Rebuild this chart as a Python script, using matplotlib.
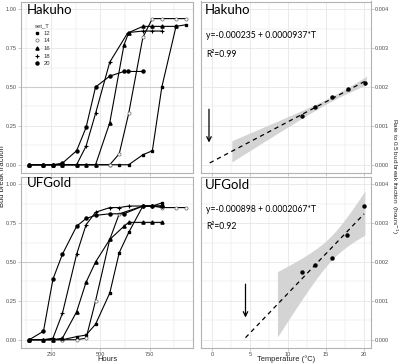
import numpy as np
import matplotlib
matplotlib.use('Agg')
import matplotlib.pyplot as plt
from matplotlib.lines import Line2D

# ---- bud break curves (hours, fraction) ----
hak_t12 = [140, 212, 260, 308, 380, 428, 476, 548, 596, 644, 716, 764, 812, 884, 932]
hak_v12 = [0, 0, 0, 0, 0, 0, 0, 0, 0, 0, 0.064, 0.09, 0.50, 0.89, 0.90]
hak_t14 = [140, 212, 260, 308, 380, 428, 476, 548, 596, 644, 716, 764, 812, 884, 932]
hak_v14 = [0, 0, 0, 0, 0, 0, 0, 0, 0.07, 0.33, 0.82, 0.94, 0.94, 0.94, 0.94]
hak_t16 = [140, 212, 260, 308, 380, 428, 476, 548, 620, 644, 716, 764, 812, 884]
hak_v16 = [0, 0, 0, 0, 0, 0, 0, 0.27, 0.77, 0.85, 0.89, 0.89, 0.89, 0.89]
hak_t18 = [140, 212, 260, 308, 380, 428, 476, 548, 640, 716, 764, 812]
hak_v18 = [0, 0, 0, 0, 0, 0.12, 0.33, 0.66, 0.85, 0.86, 0.86, 0.86]
hak_t20 = [140, 212, 260, 308, 380, 428, 476, 548, 620, 640, 716]
hak_v20 = [0, 0, 0, 0.01, 0.09, 0.24, 0.50, 0.57, 0.60, 0.60, 0.60]

ufg_t12 = [140, 212, 260, 308, 380, 428, 476, 548, 596, 644, 716, 764, 812]
ufg_v12 = [0, 0, 0, 0, 0.02, 0.03, 0.10, 0.30, 0.56, 0.69, 0.86, 0.86, 0.88]
ufg_t14 = [140, 212, 260, 308, 380, 428, 476, 548, 596, 716, 764, 812, 884, 932]
ufg_v14 = [0, 0, 0, 0, 0, 0.01, 0.25, 0.645, 0.81, 0.86, 0.86, 0.85, 0.85, 0.85]
ufg_t16 = [140, 212, 260, 308, 380, 428, 476, 548, 620, 644, 716, 764, 812]
ufg_v16 = [0, 0, 0, 0.01, 0.18, 0.37, 0.50, 0.645, 0.73, 0.755, 0.755, 0.755, 0.755]
ufg_t18 = [140, 212, 260, 308, 380, 428, 476, 548, 596, 644, 716, 764, 812]
ufg_v18 = [0, 0, 0.01, 0.17, 0.55, 0.74, 0.82, 0.85, 0.85, 0.86, 0.86, 0.86, 0.86]
ufg_t20 = [140, 212, 260, 308, 380, 428, 476, 548, 620, 716, 764, 812]
ufg_v20 = [0, 0.055, 0.39, 0.55, 0.73, 0.78, 0.80, 0.81, 0.81, 0.86, 0.86, 0.86]

set_T = ['12', '14', '16', '18', '20']

# ---- rate to 0.5 bud break vs temperature ----
hak_T = [11.8, 13.5, 15.8, 17.9, 20.1]
hak_rate = [0.00125, 0.00149, 0.00174, 0.00194, 0.00211]
ufg_T = [11.8, 13.5, 15.8, 17.8, 20.0]
ufg_rate = [0.00173, 0.00191, 0.00211, 0.0027, 0.00344]

hak_eq = 'y=-0.000235 + 0.0000937*T'
hak_r2 = 'R²=0.99'
ufg_eq = 'y=-0.000898 + 0.0002067*T'
ufg_r2 = 'R²=0.92'

styles = {
    '12': dict(marker='s', ms=2.0, mfc='black', mec='black'),
    '14': dict(marker='o', ms=2.3, mfc='white', mec='#666666', mew=0.5),
    '16': dict(marker='^', ms=2.3, mfc='black', mec='black'),
    '18': dict(marker='+', ms=2.3, mfc='black', mec='black', mew=0.8),
    '20': dict(marker='o', ms=2.2, mfc='black', mec='black'),
}

W, H = 400, 364
fig = plt.figure(figsize=(4, 3.64), dpi=100)

def px_axes(x0, y0, x1, y1):
    return fig.add_axes([x0 / W, 1 - y1 / H, (x1 - x0) / W, (y1 - y0) / H])

ax_hl = px_axes(21, 1.5, 193, 172.5)
ax_ul = px_axes(21, 176.5, 193, 347.5)
ax_hr = px_axes(201, 1.5, 371, 172.5)
ax_ur = px_axes(201, 176.5, 371, 347.5)

tick_font = dict(family='Liberation Sans', size=4.1)
grid_col = '#e6e6e6'

for ax in (ax_hl, ax_ul, ax_hr, ax_ur):
    for s in ax.spines.values():
        s.set_color('#b3b3b3')
        s.set_linewidth(0.8)
    ax.tick_params(length=2, width=0.5, color='#b3b3b3', labelcolor='#4d4d4d',
                   labelsize=4.1, pad=1.0)
    ax.set_axisbelow(True)

# left panels
for ax, curves in ((ax_hl, [(hak_t12, hak_v12), (hak_t14, hak_v14), (hak_t16, hak_v16),
                            (hak_t18, hak_v18), (hak_t20, hak_v20)]),
                   (ax_ul, [(ufg_t12, ufg_v12), (ufg_t14, ufg_v14), (ufg_t16, ufg_v16),
                            (ufg_t18, ufg_v18), (ufg_t20, ufg_v20)])):
    ax.set_xlim(98, 970)
    ax.set_ylim(-0.05, 1.05)
    ax.set_xticks([250, 500, 750])
    ax.set_xticks([125, 375, 625, 875], minor=True)
    ax.set_yticks([0, 0.25, 0.5, 0.75, 1.0])
    ax.set_yticks([0.125, 0.375, 0.625, 0.875], minor=True)
    ax.set_yticklabels(['0.00', '0.25', '0.50', '0.75', '1.00'], **tick_font)
    ax.grid(which='major', color=grid_col, lw=0.6)
    ax.grid(which='minor', color=grid_col, lw=0.35)
    ax.tick_params(which='minor', length=0)
    ax.axhline(0.5, color='#cccccc', lw=0.8, zorder=1)
    for key, (t, v) in zip(set_T, curves):
        ax.plot(t, v, color='black', lw=0.8, zorder=3, **styles[key])

ax_hl.set_xticklabels([])
ax_ul.set_xticklabels(['250', '500', '750'], **tick_font)

handles = [Line2D([], [], ls='none', **styles[k]) for k in set_T]
leg = ax_hl.legend(handles, set_T, title='set_T', loc='upper left',
                   bbox_to_anchor=(0.06, 0.895), frameon=False,
                   prop=dict(family='Liberation Sans', size=4.2),
                   handlelength=0.8, handletextpad=0.7, labelspacing=0.45,
                   borderpad=0.1)
leg.get_title().set_fontsize(4.2)
leg.get_title().set_family('Liberation Sans')
leg.get_title().set_color('#333333')
for txt in leg.get_texts():
    txt.set_color('#333333')

ax_hl.text(0.035, 0.985, 'Hakuho', transform=ax_hl.transAxes, ha='left', va='top',
           family='Lato', fontsize=9.5)
ax_ul.text(0.035, 1.0, 'UFGold', transform=ax_ul.transAxes, ha='left', va='top',
           family='Lato', fontsize=9.5)

# right panels
tcrit = 3.182  # t(0.975, df=3)

def rate_panel(ax, T, rate, line_rng, band_rng, arrow_x, name):
    T = np.array(T)
    rate = np.array(rate)
    ax.set_xlim(-1.45, 20.9)
    ax.set_ylim(-0.0002, 0.0042)
    ax.set_xticks([0, 5, 10, 15, 20])
    ax.set_xticks([2.5, 7.5, 12.5, 17.5], minor=True)
    ax.set_yticks([0, 0.001, 0.002, 0.003, 0.004])
    ax.set_yticks([0.0005, 0.0015, 0.0025, 0.0035], minor=True)
    ax.yaxis.tick_right()
    ax.set_yticklabels(['0.000', '0.001', '0.002', '0.003', '0.004'], **tick_font)
    ax.grid(which='major', color=grid_col, lw=0.6)
    ax.grid(which='minor', color=grid_col, lw=0.35)
    ax.tick_params(which='minor', length=0)

    b, a = np.polyfit(T, rate, 1)
    n = len(T)
    resid = rate - (a + b * T)
    s = np.sqrt(np.sum(resid ** 2) / (n - 2))
    sxx = np.sum((T - T.mean()) ** 2)
    xb = np.linspace(band_rng[0], band_rng[1], 60)
    se = s * np.sqrt(1 / n + (xb - T.mean()) ** 2 / sxx)
    yb = a + b * xb
    ax.fill_between(xb, yb - tcrit * se, yb + tcrit * se, color='#d4d4d4', lw=0, zorder=1)
    xl = np.array(line_rng)
    ax.plot(xl, a + b * xl, color='black', lw=0.9, ls=(0, (3.5, 3)), zorder=3)
    ax.plot(T, rate, 'o', color='black', ms=2.2, zorder=4)
    ax.annotate('', xy=(arrow_x, 0.0005), xytext=(arrow_x, 0.0015),
                arrowprops=dict(arrowstyle='->', color='black', lw=0.9,
                                mutation_scale=8))
    ax.text(0.025, 0.985, name, transform=ax.transAxes, ha='left', va='top',
            family='Lato', fontsize=9.5)

rate_panel(ax_hr, hak_T, hak_rate, (-0.3, 20.1), (2.6, 20.3), -0.4, 'Hakuho')
rate_panel(ax_ur, ufg_T, ufg_rate, (4.4, 20.0), (8.6, 20.1), 4.4, 'UFGold')
ax_hr.set_xticklabels([])
ax_ur.set_xticklabels(['0', '5', '10', '15', '20'], **tick_font)

eq_font = dict(family='Lato', fontsize=6.2)
ax_hr.text(0.03, 0.80, hak_eq, transform=ax_hr.transAxes, ha='left', va='center', **eq_font)
ax_hr.text(0.03, 0.69, hak_r2, transform=ax_hr.transAxes, ha='left', va='center', **eq_font)
ax_ur.text(0.03, 0.805, ufg_eq, transform=ax_ur.transAxes, ha='left', va='center', **eq_font)
ax_ur.text(0.03, 0.71, ufg_r2, transform=ax_ur.transAxes, ha='left', va='center', **eq_font)

# axis titles
lab_font = dict(family='Liberation Sans', size=5.4, color='#222222')
fig.text(3 / W, 1 - 176 / H, 'Bud break fraction', rotation=90, ha='center', va='center', **lab_font)
fig.text(107 / W, 1 - 359.5 / H, 'Hours', ha='center', va='center', **lab_font)
fig.text(286 / W, 1 - 359.5 / H, 'Temperature (°C)', ha='center', va='center', **lab_font)
fig.text(394.6 / W, 1 - 176 / H, 'Rate to 0.5 bud break fraction  (hours$^{-1}$)', rotation=270,
         ha='center', va='center', family='Liberation Sans', size=4.6, color='#222222')

fig.savefig('out.png', dpi=100)
